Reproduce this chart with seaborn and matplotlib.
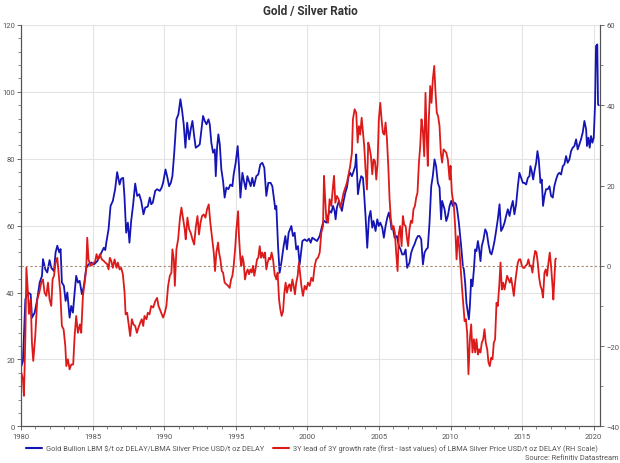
import matplotlib
matplotlib.use("Agg")
import matplotlib.pyplot as plt
from matplotlib.ticker import MultipleLocator
from matplotlib.lines import Line2D
import seaborn as sns
import pandas as pd

# gold / silver ratio (left scale)
gold_years = [
    1980.02, 1980.13, 1980.30, 1980.48, 1980.67, 1980.76, 1980.95, 1981.13, 1981.30, 1981.46,
    1981.53, 1981.69, 1981.83, 1981.99, 1982.11, 1982.30, 1982.41, 1982.53, 1982.67, 1982.76,
    1982.85, 1982.99, 1983.11, 1983.23, 1983.39, 1983.50, 1983.62, 1983.74, 1983.85, 1983.97,
    1984.09, 1984.25, 1984.39, 1984.55, 1984.71, 1984.90, 1985.09, 1985.32, 1985.48, 1985.64,
    1985.78, 1985.88, 1985.97, 1986.11, 1986.25, 1986.41, 1986.57, 1986.71, 1986.88, 1986.99,
    1987.13, 1987.22, 1987.34, 1987.46, 1987.57, 1987.69, 1987.83, 1987.97, 1988.11, 1988.25,
    1988.39, 1988.55, 1988.67, 1988.85, 1988.99, 1989.09, 1989.20, 1989.37, 1989.50, 1989.69,
    1989.81, 1989.92, 1990.09, 1990.20, 1990.34, 1990.46, 1990.57, 1990.69, 1990.85, 1990.99,
    1991.13, 1991.25, 1991.36, 1991.48, 1991.60, 1991.74, 1991.85, 1991.97, 1992.09, 1992.20,
    1992.36, 1992.48, 1992.60, 1992.71, 1992.83, 1992.95, 1993.09, 1993.18, 1993.29, 1993.41,
    1993.53, 1993.60, 1993.69, 1993.78, 1993.88, 1993.99, 1994.11, 1994.22, 1994.34, 1994.48,
    1994.62, 1994.76, 1994.85, 1994.99, 1995.13, 1995.22, 1995.32, 1995.46, 1995.57, 1995.69,
    1995.81, 1995.92, 1996.04, 1996.15, 1996.27, 1996.43, 1996.57, 1996.71, 1996.85, 1996.99,
    1997.13, 1997.27, 1997.43, 1997.55, 1997.67, 1997.76, 1997.83, 1997.95, 1998.06, 1998.18,
    1998.34, 1998.46, 1998.57, 1998.69, 1998.88, 1998.99, 1999.11, 1999.22, 1999.34, 1999.46,
    1999.65, 1999.81, 1999.97, 2000.11, 2000.23, 2000.34, 2000.51, 2000.67, 2000.86, 2000.97,
    2001.09, 2001.20, 2001.32, 2001.44, 2001.55, 2001.67, 2001.79, 2001.90, 2001.97, 2002.06,
    2002.20, 2002.30, 2002.41, 2002.53, 2002.65, 2002.76, 2002.88, 2002.99, 2003.11, 2003.23,
    2003.34, 2003.41, 2003.53, 2003.65, 2003.76, 2003.88, 2003.95, 2004.06, 2004.18, 2004.30,
    2004.41, 2004.53, 2004.62, 2004.76, 2004.88, 2004.99, 2005.09, 2005.23, 2005.34, 2005.46,
    2005.58, 2005.69, 2005.79, 2005.88, 2005.97, 2006.09, 2006.25, 2006.39, 2006.51, 2006.62,
    2006.74, 2006.86, 2006.97, 2007.13, 2007.25, 2007.37, 2007.48, 2007.60, 2007.72, 2007.83,
    2007.95, 2008.07, 2008.18, 2008.30, 2008.41, 2008.53, 2008.65, 2008.76, 2008.88, 2008.99,
    2009.11, 2009.23, 2009.34, 2009.41, 2009.51, 2009.58, 2009.70, 2009.81, 2009.93, 2010.05,
    2010.16, 2010.28, 2010.39, 2010.46, 2010.58, 2010.74, 2010.86, 2010.93, 2011.02, 2011.11,
    2011.21, 2011.28, 2011.35, 2011.44, 2011.53, 2011.63, 2011.72, 2011.81, 2011.91, 2012.00,
    2012.09, 2012.18, 2012.30, 2012.42, 2012.53, 2012.65, 2012.77, 2012.86, 2012.95, 2013.07,
    2013.18, 2013.30, 2013.42, 2013.53, 2013.65, 2013.77, 2013.88, 2014.00, 2014.12, 2014.23,
    2014.35, 2014.46, 2014.58, 2014.70, 2014.81, 2014.93, 2015.05, 2015.16, 2015.28, 2015.40,
    2015.51, 2015.58, 2015.67, 2015.77, 2015.86, 2015.98, 2016.07, 2016.16, 2016.28, 2016.37,
    2016.46, 2016.56, 2016.67, 2016.79, 2016.91, 2017.02, 2017.14, 2017.25, 2017.37, 2017.49,
    2017.60, 2017.72, 2017.84, 2017.95, 2018.07, 2018.18, 2018.30, 2018.42, 2018.53, 2018.65,
    2018.77, 2018.88, 2019.00, 2019.11, 2019.23, 2019.35, 2019.47, 2019.53, 2019.63, 2019.72,
    2019.81, 2019.91, 2020.00, 2020.09, 2020.16, 2020.25, 2020.30, 2020.35,
]
gold_ratio = [
    18.0, 19.5, 38.0, 40.0, 39.5, 32.5, 34.0, 38.0, 43.0, 45.0,
    50.0, 47.0, 46.0, 49.7, 47.4, 46.4, 52.0, 54.0, 52.0, 53.0,
    43.0, 42.0, 37.5, 40.0, 32.5, 36.0, 34.0, 40.0, 45.0, 43.0,
    43.5, 39.5, 42.0, 47.4, 48.4, 49.0, 48.4, 49.4, 50.7, 52.2,
    53.4, 52.7, 55.4, 58.9, 65.9, 67.4, 70.9, 76.0, 72.3, 74.0,
    74.3, 68.9, 57.9, 60.9, 54.9, 61.4, 66.4, 72.6, 68.9, 69.4,
    67.4, 63.4, 65.4, 65.7, 68.4, 66.4, 66.9, 70.4, 70.9, 70.4,
    71.3, 72.8, 76.8, 74.8, 71.8, 72.8, 74.8, 81.3, 91.8, 93.3,
    97.8, 94.3, 90.3, 83.3, 90.8, 85.8, 88.8, 91.3, 86.8, 83.3,
    83.8, 84.3, 88.8, 92.8, 91.3, 90.3, 91.8, 90.3, 84.8, 81.8,
    82.8, 74.8, 83.3, 87.3, 84.3, 76.8, 73.3, 68.4, 71.4, 70.9,
    72.3, 71.8, 75.3, 78.8, 83.8, 77.8, 68.4, 75.8, 73.3, 70.9,
    74.8, 73.3, 71.8, 74.3, 71.8, 74.8, 75.3, 78.3, 78.8, 77.3,
    68.9, 72.8, 72.8, 71.8, 67.9, 64.9, 65.9, 53.9, 45.9, 48.9,
    53.9, 56.9, 52.9, 57.9, 59.9, 56.9, 57.9, 52.9, 53.9, 48.4,
    55.4, 55.9, 55.4, 56.1, 54.9, 56.4, 55.9, 55.4, 56.9, 58.9,
    60.9, 61.4, 60.9, 62.9, 64.4, 63.9, 65.9, 64.4, 61.9, 65.4,
    67.4, 65.9, 64.4, 67.4, 69.9, 71.4, 74.8, 75.8, 74.8, 76.3,
    77.8, 81.3, 69.4, 72.8, 74.8, 74.3, 70.4, 62.9, 53.4, 62.4,
    64.4, 59.4, 61.4, 58.4, 61.9, 59.9, 60.9, 59.4, 56.4, 59.9,
    62.4, 63.9, 61.9, 58.9, 59.4, 56.4, 56.9, 53.9, 52.9, 51.4,
    51.4, 52.9, 47.4, 48.9, 51.9, 53.4, 54.4, 55.9, 56.9, 56.9,
    55.9, 48.4, 51.9, 52.9, 53.4, 60.9, 71.8, 74.8, 79.8, 77.8,
    72.8, 71.4, 61.9, 67.4, 65.9, 64.9, 61.4, 62.9, 65.9, 67.4,
    65.9, 66.9, 66.4, 64.9, 60.9, 53.9, 47.9, 46.9, 42.9, 36.9,
    33.9, 32.0, 36.0, 43.9, 41.9, 46.9, 52.9, 52.4, 55.4, 52.9,
    49.4, 53.9, 55.9, 58.9, 57.9, 54.4, 51.9, 51.4, 52.9, 55.4,
    58.4, 61.9, 66.4, 58.4, 59.4, 60.9, 62.9, 64.9, 62.9, 65.4,
    67.4, 63.4, 66.4, 71.8, 75.8, 74.3, 72.8, 72.8, 72.3, 74.3,
    74.8, 77.8, 76.3, 73.8, 76.3, 78.8, 82.3, 79.8, 72.8, 73.8,
    65.9, 68.9, 70.9, 70.9, 71.8, 68.9, 68.4, 71.8, 73.8, 75.3,
    75.8, 75.3, 77.8, 78.3, 80.8, 78.8, 79.8, 82.3, 83.3, 83.8,
    85.8, 82.8, 84.3, 85.8, 87.8, 91.3, 88.8, 83.8, 86.3, 83.3,
    86.8, 84.8, 86.3, 95.8, 113.7, 114.2, 96.3, 96.0,
]

# 3Y lead of 3Y silver growth rate (right scale)
growth_years = [
    1980.02, 1980.13, 1980.20, 1980.30, 1980.37, 1980.48, 1980.55, 1980.67, 1980.76, 1980.85,
    1980.99, 1981.13, 1981.27, 1981.41, 1981.53, 1981.64, 1981.76, 1981.88, 1981.99, 1982.11,
    1982.20, 1982.30, 1982.41, 1982.53, 1982.62, 1982.74, 1982.85, 1982.97, 1983.09, 1983.16,
    1983.27, 1983.39, 1983.50, 1983.64, 1983.74, 1983.85, 1983.97, 1984.11, 1984.20, 1984.32,
    1984.44, 1984.55, 1984.62, 1984.71, 1984.85, 1985.02, 1985.18, 1985.27, 1985.37, 1985.51,
    1985.64, 1985.78, 1985.88, 1986.02, 1986.11, 1986.20, 1986.30, 1986.41, 1986.53, 1986.67,
    1986.76, 1986.88, 1986.99, 1987.11, 1987.23, 1987.30, 1987.41, 1987.50, 1987.62, 1987.74,
    1987.85, 1987.97, 1988.09, 1988.20, 1988.32, 1988.43, 1988.53, 1988.62, 1988.76, 1988.85,
    1988.97, 1989.09, 1989.23, 1989.37, 1989.50, 1989.60, 1989.92, 1990.04, 1990.15, 1990.27,
    1990.39, 1990.50, 1990.57, 1990.67, 1990.74, 1990.85, 1990.97, 1991.09, 1991.20, 1991.32,
    1991.43, 1991.50, 1991.62, 1991.74, 1991.85, 1991.97, 1992.09, 1992.20, 1992.32, 1992.43,
    1992.53, 1992.64, 1992.76, 1992.88, 1992.99, 1993.11, 1993.22, 1993.34, 1993.46, 1993.55,
    1993.64, 1993.76, 1993.83, 1993.92, 1994.02, 1994.11, 1994.22, 1994.34, 1994.46, 1994.57,
    1994.67, 1994.76, 1994.85, 1994.95, 1995.04, 1995.16, 1995.22, 1995.32, 1995.39, 1995.46,
    1995.55, 1995.64, 1995.74, 1995.83, 1995.92, 1996.02, 1996.11, 1996.20, 1996.29, 1996.39,
    1996.48, 1996.57, 1996.67, 1996.76, 1996.85, 1996.95, 1997.04, 1997.13, 1997.22, 1997.32,
    1997.41, 1997.50, 1997.60, 1997.71, 1997.83, 1997.92, 1998.02, 1998.11, 1998.20, 1998.30,
    1998.39, 1998.48, 1998.57, 1998.67, 1998.76, 1998.85, 1998.95, 1999.04, 1999.13, 1999.22,
    1999.32, 1999.41, 1999.58, 1999.69, 1999.81, 1999.93, 2000.04, 2000.16, 2000.27, 2000.39,
    2000.51, 2000.62, 2000.74, 2000.86, 2000.97, 2001.09, 2001.16, 2001.23, 2001.32, 2001.44,
    2001.55, 2001.67, 2001.79, 2001.86, 2001.95, 2002.06, 2002.18, 2002.30, 2002.41, 2002.53,
    2002.65, 2002.76, 2002.88, 2002.99, 2003.11, 2003.18, 2003.30, 2003.41, 2003.51, 2003.60,
    2003.69, 2003.79, 2003.88, 2003.97, 2004.06, 2004.16, 2004.25, 2004.34, 2004.44, 2004.53,
    2004.62, 2004.72, 2004.81, 2004.90, 2004.99, 2005.09, 2005.18, 2005.27, 2005.37, 2005.46,
    2005.55, 2005.65, 2005.74, 2005.83, 2005.93, 2006.02, 2006.11, 2006.20, 2006.30, 2006.39,
    2006.48, 2006.58, 2006.67, 2006.76, 2006.86, 2006.95, 2007.04, 2007.13, 2007.23, 2007.32,
    2007.41, 2007.51, 2007.60, 2007.69, 2007.79, 2007.88, 2007.97, 2008.06, 2008.16, 2008.25,
    2008.34, 2008.41, 2008.48, 2008.58, 2008.67, 2008.76, 2008.86, 2008.95, 2009.04, 2009.13,
    2009.23, 2009.32, 2009.41, 2009.51, 2009.70, 2009.81, 2009.93, 2010.00, 2010.09, 2010.23,
    2010.32, 2010.42, 2010.51, 2010.60, 2010.70, 2010.79, 2010.88, 2010.98, 2011.07, 2011.16,
    2011.25, 2011.35, 2011.44, 2011.53, 2011.63, 2011.72, 2011.81, 2011.91, 2012.00, 2012.09,
    2012.18, 2012.28, 2012.37, 2012.46, 2012.56, 2012.65, 2012.74, 2012.84, 2012.93, 2013.02,
    2013.11, 2013.21, 2013.30, 2013.40, 2013.49, 2013.58, 2013.67, 2013.77, 2013.86, 2013.95,
    2014.05, 2014.14, 2014.23, 2014.32, 2014.42, 2014.51, 2014.60, 2014.70, 2014.79, 2014.88,
    2014.98, 2015.07, 2015.16, 2015.25, 2015.35, 2015.44, 2015.53, 2015.63, 2015.72, 2015.81,
    2015.91, 2016.00, 2016.09, 2016.19, 2016.28, 2016.37, 2016.46, 2016.56, 2016.65, 2016.74,
    2016.84, 2016.93, 2017.02, 2017.12, 2017.18, 2017.25, 2017.32, 2017.37,
]
growth_rate = [
    -26.6, -28.3, -32.4, -17.5, -0.5, -6.7, -12.0, -8.4, -19.2, -23.7,
    -17.5, -8.4, -6.7, -4.2, -3.4, -6.7, -7.5, -4.2, -8.4, -10.0,
    -3.4, -2.5, 0.8, 2.0, -1.7, -6.7, -15.0, -15.8, -20.0, -25.0,
    -23.3, -25.8, -24.6, -24.6, -17.5, -12.5, -16.7, -14.6, -16.7, -7.5,
    -4.2, -0.9, 7.0, 1.6, 0.0, 0.4, 1.2, 2.9, 1.6, 2.9,
    1.6, 1.2, 0.8, 0.4, -0.9, 2.0, 1.2, -0.5, 1.6, -0.5,
    0.8, -0.9, -0.5, -2.1, -6.7, -12.1, -11.7, -14.2, -17.5, -13.3,
    -14.6, -15.0, -16.7, -15.4, -14.2, -13.3, -15.0, -12.5, -13.3, -11.7,
    -12.1, -10.0, -10.4, -8.8, -8.0, -10.0, -12.9, -11.7, -10.0, -5.0,
    -2.5, -1.7, 4.1, 1.6, -5.0, 4.1, 6.6, 11.6, 14.5, 11.6,
    9.1, 6.6, 12.0, 9.1, 8.2, 6.6, 5.3, 9.5, 12.4, 7.8,
    10.7, 12.4, 12.8, 12.0, 14.1, 15.3, 10.7, 7.0, 3.3, -1.3,
    3.3, 5.8, 3.3, 1.6, -1.3, -1.7, -4.2, -4.6, -5.0, -5.5,
    -3.4, -2.5, 0.0, 4.1, 9.1, 13.6, 7.4, 1.6, 0.0, 2.4,
    0.8, -3.4, -1.7, -0.9, -2.1, -0.9, -1.7, 0.0, -2.5, -0.5,
    1.6, 2.0, 4.9, 2.0, 3.3, 2.0, 3.3, -0.9, 0.8, 2.0,
    1.6, 3.3, 1.6, -2.1, -3.4, -1.7, -8.4, -10.9, -12.5, -11.3,
    -6.7, -4.2, -6.7, -5.0, -4.6, -6.3, -3.4, -5.0, -7.1, -4.2,
    -2.5, 0.8, -5.0, -7.5, -5.0, -5.9, -4.2, -5.0, -3.0, -3.8,
    0.0, 1.6, 2.0, 3.3, 8.2, 9.9, 22.4, 17.4, 11.6, 10.7,
    16.6, 14.9, 19.9, 22.4, 15.7, 17.4, 16.6, 14.5, 16.1, 18.2,
    19.5, 20.7, 22.8, 24.9, 28.2, 36.5, 39.0, 38.1, 30.7, 34.8,
    32.7, 36.9, 33.2, 29.8, 24.0, 19.0, 30.7, 29.4, 27.3, 22.8,
    26.5, 26.1, 21.5, 25.3, 36.5, 40.6, 36.5, 33.2, 32.7, 35.7,
    31.9, 24.9, 16.6, 11.6, 9.1, 9.9, 8.2, 3.3, -1.3, 8.2,
    9.9, 4.9, 12.4, 10.3, 9.9, 7.0, 4.9, 9.1, 11.2, 10.7,
    14.1, 14.9, 17.0, 18.2, 25.7, 29.8, 36.5, 34.0, 27.3, 43.1,
    31.5, 24.9, 36.5, 44.8, 40.6, 46.4, 49.8, 43.1, 38.1, 37.3,
    34.8, 28.2, 25.7, 29.0, 28.2, 26.5, 21.5, 24.9, 18.2, 14.9,
    9.9, 1.6, 7.4, 4.9, -0.3, -5.0, -9.2, -13.8, -13.3, -16.7,
    -27.0, -18.3, -14.6, -21.6, -18.3, -21.6, -18.3, -22.1, -20.8, -21.6,
    -19.2, -18.3, -15.8, -19.2, -20.8, -24.1, -25.0, -22.9, -23.3, -19.2,
    -18.3, -9.2, -10.0, -5.0, 0.8, -5.9, -4.2, -5.9, -4.2, -2.5,
    -3.4, -4.2, -3.0, -5.0, -7.5, -4.2, -1.7, 0.8, 1.6, 1.6,
    0.0, -0.5, -0.5, 0.0, 0.4, 1.6, 0.0, 0.0, -1.7, 1.6,
    3.7, 3.3, 0.8, -3.0, -5.0, -5.9, -7.9, -1.7, -0.9, -2.5,
    0.8, 3.3, 0.0, -5.0, -8.4, -3.4, 1.6, 1.8,
]

x_ticks = [1980, 1985, 1990, 1995, 2000, 2005, 2010, 2015, 2020]
left_ticks = [0, 20, 40, 60, 80, 100, 120]
right_ticks = [-40, -20, 0, 20, 40, 60]

gold_label = "Gold Bullion LBM $/t oz DELAY/LBMA Silver Price USD/t oz DELAY"
growth_label = ("3Y lead of 3Y growth rate (first - last values) of LBMA Silver "
                "Price USD/t oz DELAY (RH Scale)")

BLUE = "#1515b5"
RED = "#dd1a1a"
TXT = "#555555"

sns.set_theme(style="white")
plt.rcParams["font.family"] = ["Roboto", "DejaVu Sans"]

gold_df = pd.DataFrame({"year": gold_years, "ratio": gold_ratio})
growth_df = pd.DataFrame({"year": growth_years, "growth": growth_rate})

fig = plt.figure(figsize=(6.2, 4.64), dpi=100)
ax = fig.add_axes([0.034, 0.079, 0.934, 0.865])
ax2 = ax.twinx()

sns.lineplot(data=gold_df, x="year", y="ratio", ax=ax, color=BLUE, linewidth=1.3)
ax2.axhline(0, color="#a88a70", linestyle=(0, (2, 2)), linewidth=0.8, zorder=1)
sns.lineplot(data=growth_df, x="year", y="growth", ax=ax2, color=RED, linewidth=1.3, zorder=2)

ax.set_xlim(1980, 2020.45)
ax.set_ylim(0, 120)
ax2.set_ylim(-40, 60)
ax.set_xticks(x_ticks)
ax.set_yticks(left_ticks)
ax2.set_yticks(right_ticks)
ax.xaxis.set_minor_locator(MultipleLocator(1))
ax.yaxis.set_minor_locator(MultipleLocator(4))
ax2.yaxis.set_minor_locator(MultipleLocator(10))

ax.grid(True, which="major", color="#e3e3e3", linewidth=0.8)
ax2.grid(False)
ax.set_xlabel("")
ax.set_ylabel("")
ax2.set_ylabel("")

for a in (ax, ax2):
    a.spines["top"].set_visible(False)
    for side in ("left", "right", "bottom"):
        a.spines[side].set_color("#555555")
        a.spines[side].set_linewidth(0.8)
    a.tick_params(which="major", length=3, width=0.6, color="#555555",
                  labelsize=5.5, labelcolor=TXT, pad=1.5)
    a.tick_params(which="minor", length=2, width=0.5, color="#555555")
ax.tick_params(axis="x", which="both", bottom=True)
ax.tick_params(axis="y", which="both", left=True)
ax2.tick_params(axis="y", which="both", right=True)

fig.suptitle("Gold / Silver Ratio", x=0.5, y=0.99, fontsize=8.5,
             fontweight="bold", color="#333333")

handles = [Line2D([], [], color=BLUE, linewidth=1.5),
           Line2D([], [], color=RED, linewidth=1.5)]
fig.legend(handles, [gold_label, growth_label], loc="center",
           bbox_to_anchor=(0.503, 0.032), ncol=2, frameon=False,
           fontsize=5.3, handlelength=2.2, handletextpad=0.5,
           columnspacing=1.2, labelcolor=TXT)
fig.text(0.997, 0.012, "Source: Refinitiv Datastream", ha="right", va="center",
         fontsize=5.3, color=TXT)

fig.savefig("out.png", dpi=100, facecolor="white")
